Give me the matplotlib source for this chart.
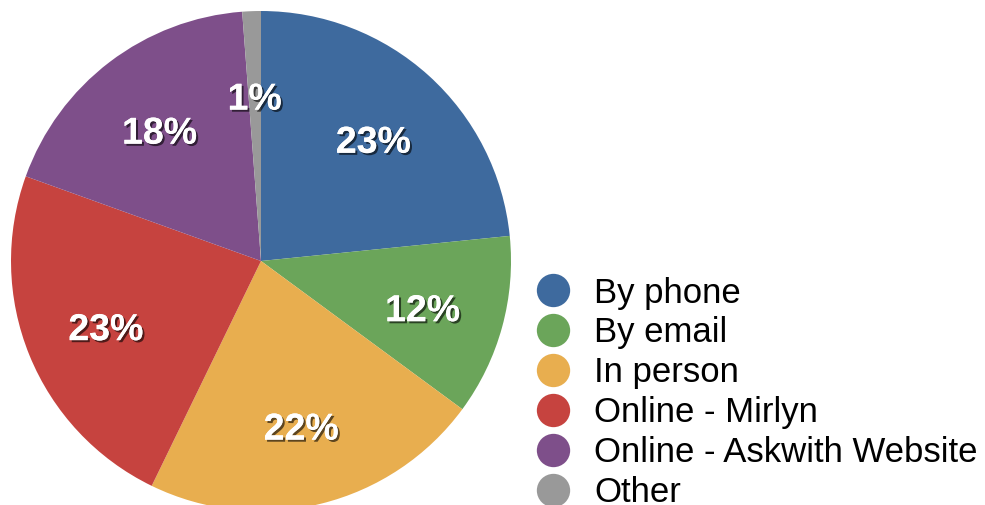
import matplotlib
matplotlib.use("Agg")
from matplotlib import pyplot as plt
from matplotlib import patheffects
from matplotlib.lines import Line2D

# data (percent of answers)
categories = ['By phone', 'By email', 'In person', 'Online - Mirlyn',
              'Online - Askwith Website', 'Other']
values = [23.4, 11.7, 22.1, 23.3, 18.3, 1.2]
colors = ['#3e6a9e', '#6ba55a', '#e8ae4f', '#c6433f', '#7e4f8a', '#999999']

plt.rcParams['font.family'] = ['Liberation Sans', 'DejaVu Sans']

W, H = 985, 506
fig = plt.figure(figsize=(W / 100, H / 100), dpi=100)
fig.set_facecolor('white')

# pie axes: centre (261, 262) px from top-left, radius 250 px
cx, cy, r = 261, 262, 250
ax = fig.add_axes([(cx - r) / W, (H - cy - r) / H, 2 * r / W, 2 * r / H])

wedges, texts, autotexts = ax.pie(values, colors=colors, startangle=90,
                                  counterclock=False, radius=1,
                                  autopct='%.0f%%', pctdistance=0.67,
                                  wedgeprops=dict(edgecolor='none'))
# pie() widens the limits, put them back so the pie fills the axes
ax.set_xlim(-1, 1)
ax.set_ylim(-1, 1)
ax.set_aspect('equal')
ax.axis('off')

shadow = [patheffects.withSimplePatchShadow(offset=(1.5, -1.5),
                                            shadow_rgbFace='black', alpha=0.6),
          patheffects.Normal()]
for t in autotexts:
    t.set_color('white')
    t.set_fontsize(27)
    t.set_fontweight('bold')
    t.set_path_effects(shadow)
    # labels sit a little lower in the original
    x, y = t.get_position()
    t.set_position((x, y - 0.024))

# legend drawn row by row in pixel positions
row0, step = 291, 40
for i, (lab, col) in enumerate(zip(categories, colors)):
    y = row0 + i * step
    fig.add_artist(Line2D([553 / W], [1 - y / H], marker='o', markersize=24,
                          color=col, markeredgewidth=0,
                          transform=fig.transFigure))
    fig.text(594 / W, 1 - (y + 11.5) / H, lab, fontsize=25,
             va='baseline', ha='left', color='black')

fig.savefig('out.png', dpi=100, facecolor='white')
